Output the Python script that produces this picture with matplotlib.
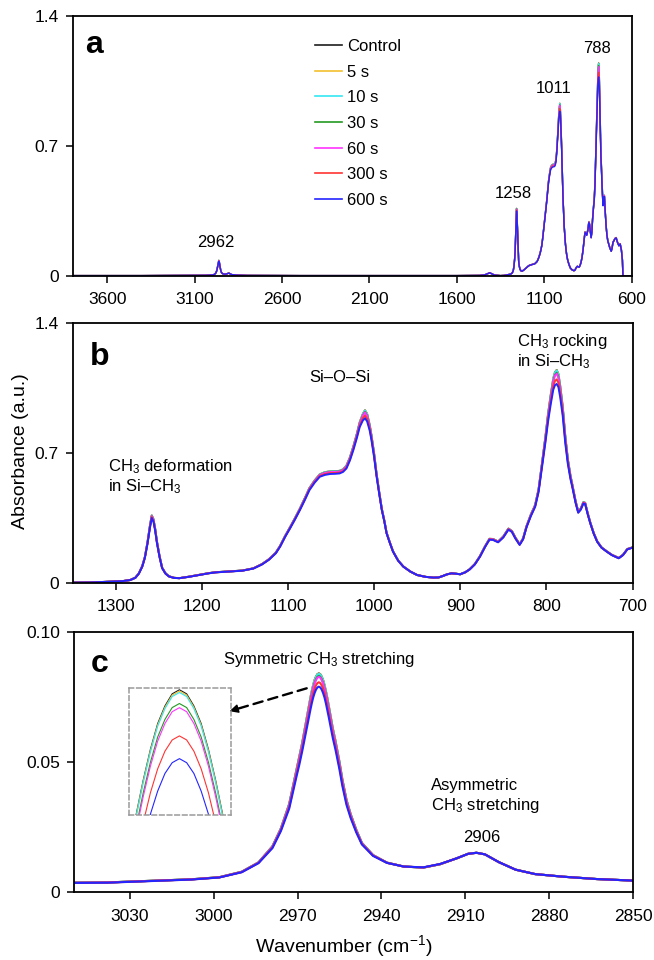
import matplotlib
matplotlib.use('Agg')
import matplotlib.pyplot as plt
from matplotlib.lines import Line2D

plt.rcParams['font.family'] = ['Liberation Sans', 'DejaVu Sans']
plt.rcParams['mathtext.fontset'] = 'custom'
plt.rcParams['mathtext.rm'] = 'Liberation Sans'
plt.rcParams['mathtext.it'] = 'Liberation Sans:italic'
plt.rcParams['mathtext.bf'] = 'Liberation Sans:bold'

# ---------------- data ----------------
series_labels = ['Control', '5 s', '10 s', '30 s', '60 s', '300 s', '600 s']
series_colors = ['#1e1e1e', '#f2c12e', '#33e6f2', '#229922', '#ff33ff', '#ff3333', '#2424ff']
# position of each series between the Control spectrum (0) and the 600 s spectrum (1),
# read from the peak heights in the inset of panel c
series_mix = [0.0, 0.02, 0.04, 0.20, 0.26, 0.67, 1.0]

wavenumber = [
    3800, 3400, 3100, 3050, 3038, 3020, 3008, 2998, 2990, 2984, 2979, 2976, 2973,
    2970.4, 2969.4, 2968.4, 2967.4, 2966.4, 2965.9, 2965.4, 2964.9, 2964.4, 2963.9,
    2963.4, 2962.9, 2962.4, 2961.9, 2961.4, 2960.9, 2960.4, 2959.9, 2959.4, 2958.9,
    2958.4, 2957.4, 2956.4, 2955, 2954, 2952.5, 2951, 2949, 2947,
    2943, 2938, 2932, 2925, 2919, 2913, 2909, 2906, 2903, 2898, 2892, 2885, 2875,
    2863, 2850, 2800, 2500, 2000, 1600, 1470, 1440, 1425, 1412, 1400, 1385, 1360,
    1350, 1330, 1312, 1292, 1283, 1277, 1273, 1269, 1266, 1263, 1260, 1258, 1256,
    1254, 1252, 1249, 1246, 1242, 1238, 1232, 1226, 1215, 1203, 1192, 1184, 1170,
    1153, 1140, 1130, 1122, 1114, 1109, 1103, 1098, 1092, 1086, 1080, 1075, 1069,
    1063, 1057, 1051, 1045, 1040, 1036, 1032, 1028, 1024, 1020, 1016.6, 1013,
    1010.5, 1008, 1005, 1003, 1000, 997, 994, 991, 988, 985.5, 982, 978, 972, 966,
    958, 950, 940, 931, 925, 920, 915, 910, 905, 900, 894, 889, 883, 877, 871, 866,
    862, 856, 850, 844, 840, 836, 831, 827, 823, 818, 813, 809, 805, 801, 798, 795,
    792, 790, 788, 786, 784, 781, 778, 775, 772, 770, 766, 763, 760, 757, 755, 752,
    749, 745, 741, 736, 730, 724, 716, 711, 706, 700, 695, 688, 680, 672, 665, 658,
    652, 649, 600,
]

abs_control = [
    0.002, 0.002, 0.003, 0.0037, 0.0038, 0.0045, 0.0050, 0.0058, 0.0079, 0.0115,
    0.0177, 0.0245, 0.0340, 0.0470, 0.0520, 0.0572, 0.0630, 0.0690, 0.0720, 0.0749,
    0.0775, 0.0798, 0.0817, 0.0830, 0.0839, 0.0842, 0.0839, 0.0830, 0.0817, 0.0798,
    0.0775, 0.0749, 0.0720, 0.0690, 0.0630, 0.0580, 0.0500, 0.0435,
    0.0355, 0.0300, 0.0240, 0.0190, 0.0143, 0.0114, 0.0099, 0.0095, 0.0108, 0.0131,
    0.0148, 0.0152, 0.0146, 0.0116, 0.0087, 0.0070, 0.0060, 0.0051, 0.0045, 0.003,
    0.002, 0.002, 0.002, 0.003, 0.006, 0.012, 0.017, 0.012, 0.005, 0.003,
    0.002, 0.003, 0.006, 0.010, 0.016, 0.029, 0.052, 0.092, 0.140, 0.218, 0.312,
    0.364, 0.343, 0.291, 0.224, 0.146, 0.083, 0.052, 0.036, 0.028, 0.026, 0.034,
    0.044, 0.053, 0.058, 0.062, 0.067, 0.079, 0.102, 0.128, 0.164, 0.200, 0.255,
    0.296, 0.347, 0.401, 0.460, 0.511, 0.552, 0.585, 0.597, 0.601, 0.602, 0.604,
    0.612, 0.632, 0.676, 0.735, 0.802, 0.866, 0.910, 0.930, 0.910, 0.850, 0.795,
    0.700, 0.586, 0.490, 0.400, 0.335, 0.272, 0.223, 0.171, 0.121, 0.089, 0.062,
    0.043, 0.033, 0.029, 0.030, 0.038, 0.047, 0.052, 0.050, 0.047, 0.058, 0.074,
    0.102, 0.145, 0.199, 0.238, 0.237, 0.223, 0.250, 0.293, 0.280, 0.245, 0.209,
    0.240, 0.306, 0.368, 0.420, 0.505, 0.645, 0.790, 0.910, 1.010, 1.100, 1.135,
    1.147, 1.125, 1.065, 0.950, 0.790, 0.665, 0.578, 0.533, 0.440, 0.385, 0.402,
    0.435, 0.432, 0.376, 0.326, 0.269, 0.225, 0.192, 0.171, 0.152, 0.135, 0.152,
    0.183, 0.192, 0.202, 0.207, 0.182, 0.164, 0.174, 0.142, 0.086, 0.000, 0.000,
]

abs_600s = [
    0.002, 0.002, 0.003, 0.0036, 0.0037, 0.0044, 0.0049, 0.0057, 0.0077, 0.0112,
    0.0170, 0.0235, 0.0322, 0.0445, 0.0490, 0.0540, 0.0593, 0.0648, 0.0676, 0.0703,
    0.0728, 0.0750, 0.0767, 0.0780, 0.0788, 0.0791, 0.0788, 0.0780, 0.0767, 0.0750,
    0.0728, 0.0703, 0.0676, 0.0648, 0.0593, 0.0546, 0.0471, 0.0410,
    0.0336, 0.0285, 0.0230, 0.0184, 0.0140, 0.0113, 0.0099, 0.0096, 0.0109, 0.0131,
    0.0148, 0.0152, 0.0146, 0.0116, 0.0087, 0.0070, 0.0060, 0.0051, 0.0045, 0.003,
    0.002, 0.002, 0.002, 0.003, 0.006, 0.012, 0.017, 0.012, 0.005, 0.003,
    0.002, 0.003, 0.006, 0.010, 0.016, 0.028, 0.050, 0.088, 0.135, 0.210, 0.300,
    0.350, 0.330, 0.280, 0.215, 0.140, 0.080, 0.050, 0.035, 0.027, 0.026, 0.033,
    0.043, 0.052, 0.057, 0.061, 0.066, 0.078, 0.100, 0.125, 0.160, 0.196, 0.250,
    0.290, 0.340, 0.393, 0.450, 0.500, 0.540, 0.572, 0.582, 0.587, 0.588, 0.590,
    0.598, 0.617, 0.660, 0.716, 0.780, 0.840, 0.875, 0.887, 0.870, 0.820, 0.770,
    0.680, 0.572, 0.480, 0.393, 0.330, 0.268, 0.220, 0.169, 0.120, 0.088, 0.062,
    0.043, 0.033, 0.029, 0.030, 0.038, 0.047, 0.052, 0.050, 0.047, 0.058, 0.073,
    0.100, 0.142, 0.195, 0.233, 0.232, 0.219, 0.245, 0.287, 0.275, 0.240, 0.205,
    0.235, 0.300, 0.360, 0.410, 0.490, 0.625, 0.760, 0.870, 0.960, 1.040, 1.065,
    1.072, 1.055, 1.003, 0.900, 0.752, 0.640, 0.560, 0.519, 0.430, 0.378, 0.395,
    0.428, 0.425, 0.370, 0.321, 0.265, 0.222, 0.190, 0.169, 0.150, 0.133, 0.150,
    0.181, 0.190, 0.200, 0.205, 0.180, 0.162, 0.172, 0.140, 0.085, 0.000, 0.000,
]

a_xticks = [3600, 3100, 2600, 2100, 1600, 1100, 600]
a_yticks = [0, 0.7, 1.4]
a_ytick_labels = ['0', '0.7', '1.4']
b_xticks = [1300, 1200, 1100, 1000, 900, 800, 700]
b_yticks = [0, 0.7, 1.4]
b_ytick_labels = ['0', '0.7', '1.4']
c_xticks = [3030, 3000, 2970, 2940, 2910, 2880, 2850]
c_yticks = [0, 0.05, 0.10]
c_ytick_labels = ['0', '0.05', '0.10']

# ---------------- figure ----------------
W, H = 654, 960
fig = plt.figure(figsize=(W / 100, H / 100), dpi=100)


def rect(l, r, t, b):
    return [l / W, 1 - b / H, (r - l) / W, (b - t) / H]


ax_a = fig.add_axes(rect(72.5, 631.5, 16, 276))
ax_b = fig.add_axes(rect(72.5, 632.5, 323, 583))
ax_c = fig.add_axes(rect(74, 633, 632.3, 892.3))

series = []
for m in series_mix:
    series.append([c + m * (s - c) for c, s in zip(abs_control, abs_600s)])

for ax, lw in ((ax_a, 1.0), (ax_b, 1.4), (ax_c, 1.5)):
    for ys, col, lab in zip(series, series_colors, series_labels):
        ax.plot(wavenumber, ys, color=col, lw=lw, label=lab, solid_joinstyle='round')

ax_a.set_xlim(3800, 600)
ax_a.set_ylim(0, 1.4)
ax_a.set_xticks(a_xticks)
ax_a.set_yticks(a_yticks)
ax_a.set_yticklabels(a_ytick_labels)

ax_b.set_xlim(1350, 700)
ax_b.set_ylim(0, 1.4)
ax_b.set_xticks(b_xticks)
ax_b.set_yticks(b_yticks)
ax_b.set_yticklabels(b_ytick_labels)

ax_c.set_xlim(3050, 2850)
ax_c.set_ylim(0, 0.10)
ax_c.set_xticks(c_xticks)
ax_c.set_yticks(c_yticks)
ax_c.set_yticklabels(c_ytick_labels)

for ax in (ax_a, ax_b, ax_c):
    for sp in ax.spines.values():
        sp.set_linewidth(1.3)
        sp.set_color('black')
    ax.tick_params(axis='both', direction='out', length=4.8, width=1.1,
                   labelsize=12.5, top=False, right=False)
    ax.tick_params(axis='x', pad=7)
    ax.tick_params(axis='y', pad=5)

# legend in panel a
handles = [Line2D([], [], color=c, lw=1.2) for c in series_colors]
ax_a.legend(handles, series_labels, loc='upper left', bbox_to_anchor=(0.434, 0.912),
            frameon=False, fontsize=12, handlelength=1.6, handletextpad=0.3,
            labelspacing=0.64, borderpad=0, borderaxespad=0)


def ftext(px, py, s, **kw):
    fig.text(px / W, 1 - py / H, s, **kw)


# panel letters
ftext(94, 53.3, 'a', fontsize=23, fontweight='bold', ha='center', va='baseline')
ftext(99.3, 365, 'b', fontsize=23, fontweight='bold', ha='center', va='baseline')
ftext(100, 671.7, 'c', fontsize=23, fontweight='bold', ha='center', va='baseline')

# panel a peak labels
fs = 12
ftext(216, 246.7, '2962', fontsize=fs, ha='center', va='baseline')
ftext(513, 198.3, '1258', fontsize=fs, ha='center', va='baseline')
ftext(553.3, 93.3, '1011', fontsize=fs, ha='center', va='baseline')
ftext(596.7, 52.7, '788', fontsize=fs, ha='center', va='baseline')

# panel b labels
ftext(340, 381.7, 'Si\u2013O\u2013Si', fontsize=fs, ha='center', va='baseline')
ftext(516.7, 346, 'CH$_3$ rocking', fontsize=fs, ha='left', va='baseline')
ftext(516.7, 366.7, 'in Si\u2013CH$_3$', fontsize=fs, ha='left', va='baseline')
ftext(108.3, 471.7, 'CH$_3$ deformation', fontsize=fs, ha='left', va='baseline')
ftext(108.3, 491.7, 'in Si\u2013CH$_3$', fontsize=fs, ha='left', va='baseline')

# panel c labels
ftext(222.7, 664.3, 'Symmetric CH$_3$ stretching', fontsize=fs, ha='left', va='baseline')
ftext(431, 790, 'Asymmetric', fontsize=fs, ha='left', va='baseline')
ftext(431, 810, 'CH$_3$ stretching', fontsize=fs, ha='left', va='baseline')
ftext(481.7, 842.3, '2906', fontsize=fs, ha='center', va='baseline')

# axis titles
ftext(20.4, 451, 'Absorbance (a.u.)', fontsize=14, rotation=90, ha='center', va='center')
ftext(343.7, 946, 'Wavenumber (cm$^{\u22121}$)', fontsize=14, ha='center', va='center')

# inset of the symmetric CH3 peak
ax_in = fig.add_axes(rect(129, 231, 688, 814.7))
for ys, col in zip(series, series_colors):
    ax_in.plot(wavenumber, ys, color=col, lw=0.8)
ax_in.set_xlim(2965.88, 2958.84)
ax_in.set_ylim(0.07495, 0.08433)
ax_in.set_xticks([])
ax_in.set_yticks([])
ax_in.patch.set_alpha(0)
for sp in ax_in.spines.values():
    sp.set_linestyle((0, (3, 2)))
    sp.set_color('#9a9a9a')
    sp.set_linewidth(1.1)

# dashed arrow from the peak to the inset
start = (306.7, H - 688.3)
tip = (229.5, H - 711.2)
ax_c.annotate('', xy=tip, xytext=start, xycoords='figure pixels',
              textcoords='figure pixels', annotation_clip=False,
              arrowprops=dict(arrowstyle='-', color='black', lw=1.7,
                              linestyle=(0, (4, 2.5)), shrinkA=0, shrinkB=6))
ax_c.annotate('', xy=tip, xytext=(tip[0] + 12, tip[1] + 3.6), xycoords='figure pixels',
              textcoords='figure pixels', annotation_clip=False,
              arrowprops=dict(arrowstyle='-|>', color='black', lw=1.0,
                              mutation_scale=13, shrinkA=0, shrinkB=0))

fig.savefig('out.png', dpi=100)
